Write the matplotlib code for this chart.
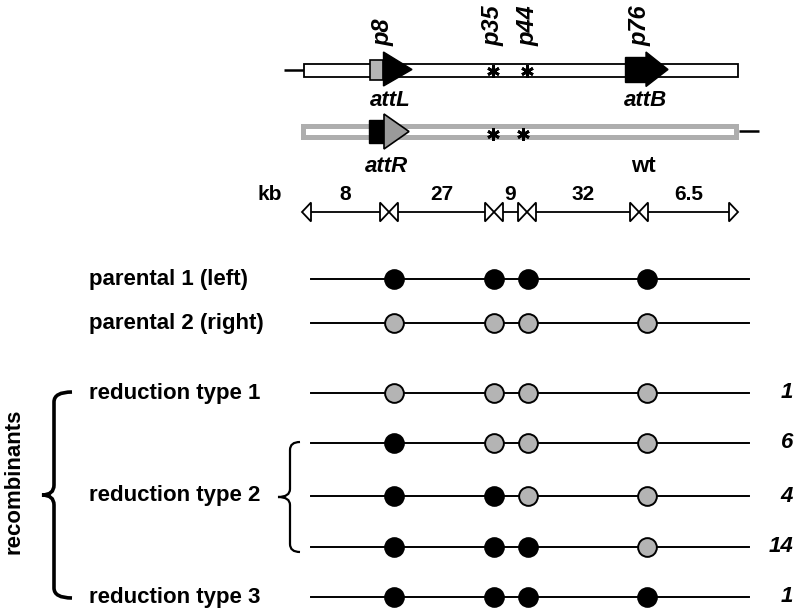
import matplotlib
matplotlib.use("Agg")
import matplotlib.pyplot as plt
from matplotlib.patches import Polygon, Rectangle, PathPatch
from matplotlib.path import Path

plt.rcParams['font.family'] = ['Liberation Sans', 'DejaVu Sans']

# ---------------- data ----------------
marker_names = ['p8', 'p35', 'p44', 'p76']
segment_kb = ['8', '27', '9', '32', '6.5']
row_labels = ['parental 1 (left)', 'parental 2 (right)',
              'reduction type 1', 'reduction type 2', 'reduction type 3']
genotypes = ['LLLL', 'RRRR', 'RRRR', 'LRRR', 'LLRR', 'LLLR', 'LLLL']
counts = ['', '', '1', '6', '4', '14', '1']
group_label = 'recombinants'
top_sites = ['attL', 'attB']
bottom_sites = ['attR', 'wt']

# ---------------- layout ----------------
W, H = 797, 613
fig = plt.figure(figsize=(W / 100, H / 100), dpi=100)
ax = fig.add_axes([0, 0, 1, 1])
ax.set_xlim(0, W)
ax.set_ylim(H, 0)
ax.axis('off')

BLACK = '#000000'
LGRAY = '#b4b4b4'
DGRAY = '#9a9a9a'
BGRAY = '#aeaeae'

# marker label positions (top)
label_x = [383, 493, 528, 640]
for name, x in zip(marker_names, label_x):
    ax.text(x, 46, name, rotation=90, ha='center', va='bottom',
            fontsize=17, fontweight='bold', fontstyle='italic')

# ---- top construct ----
ax.plot([284, 304], [70, 70], color=BLACK, lw=1.8, solid_capstyle='butt')
ax.add_patch(Rectangle((304, 63.5), 434, 13, facecolor='white',
                       edgecolor=BLACK, lw=1.3, zorder=2))
# attL: gray square + black arrowhead
ax.add_patch(Rectangle((370, 60), 13.5, 20, facecolor=LGRAY,
                       edgecolor=BLACK, lw=1.2, zorder=3))
ax.add_patch(Polygon([(383.5, 52), (383.5, 86), (412, 69.5)], closed=True,
                     facecolor=BLACK, edgecolor=BLACK, lw=1, zorder=3))
# attB: black block arrow
ax.add_patch(Rectangle((625, 57), 23, 24.5, facecolor=BLACK,
                       edgecolor=BLACK, lw=1, zorder=3))
ax.add_patch(Polygon([(646, 52), (646, 86.5), (668, 69.5)], closed=True,
                     facecolor=BLACK, edgecolor=BLACK, lw=1, zorder=3))
star_top_x = [493, 527]
ax.plot(star_top_x, [70.5, 70.5], linestyle='none', marker=(6, 2, 0),
        ms=9, mew=2.0, color=BLACK, zorder=4)

ax.text(390, 100, top_sites[0], ha='center', va='center', fontsize=16,
        fontweight='bold', fontstyle='italic')
ax.text(646, 100, top_sites[1], ha='center', va='center', fontsize=16,
        fontweight='bold', fontstyle='italic')

# ---- bottom construct ----
ax.add_patch(Rectangle((303.5, 125.5), 433, 11, facecolor='white',
                       edgecolor=BGRAY, lw=3.6, zorder=2))
ax.plot([739, 759], [131, 131], color=BLACK, lw=1.8, solid_capstyle='butt')
ax.add_patch(Rectangle((369, 120), 15, 23, facecolor=BLACK,
                       edgecolor=BLACK, lw=1, zorder=3))
ax.add_patch(Polygon([(384, 114), (384, 149), (409, 131.5)], closed=True,
                     facecolor=DGRAY, edgecolor=BLACK, lw=1.2, zorder=3))
star_bot_x = [493, 523]
ax.plot(star_bot_x, [133.5, 133.5], linestyle='none', marker=(6, 2, 0),
        ms=9, mew=2.0, color=BLACK, zorder=4)

ax.text(387, 167, bottom_sites[0], ha='center', va='center', fontsize=16,
        fontweight='bold', fontstyle='italic')
ax.text(643, 167, bottom_sites[1], ha='center', va='center', fontsize=16,
        fontweight='bold')

# ---- kb scale ----
ax.text(270, 195, 'kb', ha='center', va='center', fontsize=15,
        fontweight='bold')
bounds = [302, 389, 494, 527, 639, 738]
ys = 212
hw, hh = 9, 9.5
for i, lab in enumerate(segment_kb):
    a, b = bounds[i], bounds[i + 1]
    ax.plot([a + hw, b - hw], [ys, ys], color=BLACK, lw=1.3)
    ax.add_patch(Polygon([(a, ys), (a + hw, ys - hh), (a + hw, ys + hh)],
                         closed=True, facecolor='white', edgecolor=BLACK,
                         lw=1.3, zorder=3))
    ax.add_patch(Polygon([(b, ys), (b - hw, ys - hh), (b - hw, ys + hh)],
                         closed=True, facecolor='white', edgecolor=BLACK,
                         lw=1.3, zorder=3))
    ax.text((a + b) / 2, 195, lab, ha='center', va='center', fontsize=15,
            fontweight='bold')

# ---- genotype rows ----
row_y = [279, 323, 393, 443, 496, 547, 597]
row_x0, row_x1 = 311, 749
site_x = [394, 494, 528, 647]
for geno, y, cnt in zip(genotypes, row_y, counts):
    ax.plot([row_x0, row_x1], [y, y], color=BLACK, lw=1.4, zorder=1)
    for g, x in zip(geno, site_x):
        fc = BLACK if g == 'L' else LGRAY
        ax.plot([x], [y], marker='o', ms=13.5, mfc=fc, mec=BLACK, mew=1.4,
                linestyle='none', zorder=3)
    if cnt:
        ax.text(793, y, cnt, ha='right', va='center', fontsize=16,
                fontweight='bold', fontstyle='italic')

label_y = [279, 323, 393, 496, 597]
for lab, y in zip(row_labels, label_y):
    ax.text(89, y, lab, ha='left', va='center', fontsize=16,
            fontweight='bold')


def brace(x_hook, x_vert, x_cusp, y_top, y_bot, r, lw):
    ym = (y_top + y_bot) / 2
    verts = [(x_hook, y_top), (x_vert, y_top), (x_vert, y_top + r),
             (x_vert, ym - r), (x_vert, ym), (x_cusp, ym),
             (x_vert, ym), (x_vert, ym + r),
             (x_vert, y_bot - r), (x_vert, y_bot), (x_hook, y_bot)]
    codes = [Path.MOVETO, Path.CURVE3, Path.CURVE3,
             Path.LINETO, Path.CURVE3, Path.CURVE3,
             Path.CURVE3, Path.CURVE3,
             Path.LINETO, Path.CURVE3, Path.CURVE3]
    ax.add_patch(PathPatch(Path(verts, codes), facecolor='none',
                           edgecolor=BLACK, lw=lw, capstyle='butt'))


brace(72, 54, 42, 392, 598, 10, 2.6)
brace(300, 290, 278, 442, 552, 8, 1.6)

ax.text(14, 481, group_label, rotation=90, ha='center', va='center',
        fontsize=16, fontweight='bold')

fig.savefig('out.png', dpi=100)
